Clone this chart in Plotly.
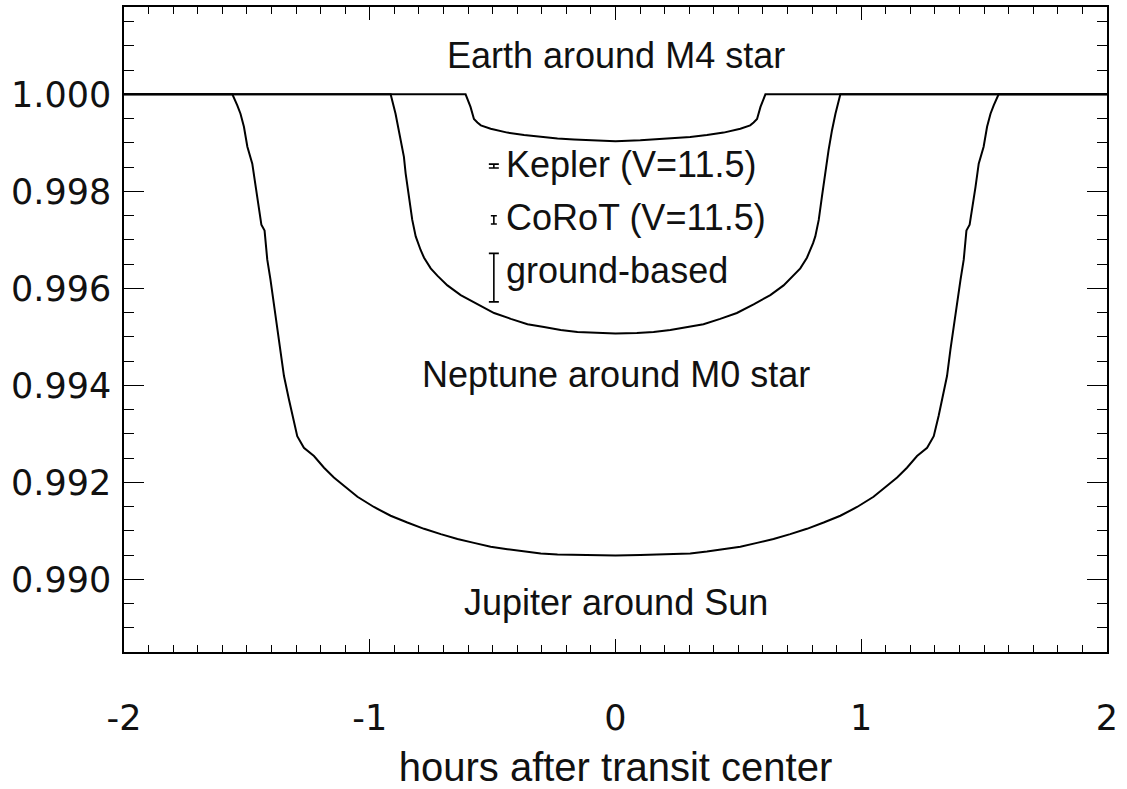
import plotly.graph_objects as go

# ---------------- data ----------------
jupiter_x = [-2.0, -1.559, -1.539, -1.526, -1.512, -1.498, -1.478, -1.465, -1.451, -1.441, -1.428,
             -1.417, -1.404, -1.390, -1.376, -1.363, -1.349, -1.329, -1.315, -1.295, -1.268, -1.227,
             -1.186, -1.146, -1.105, -1.050, -0.983, -0.915, -0.847, -0.779, -0.711, -0.643, -0.576,
             -0.508, -0.440, -0.372, -0.304, -0.236, -0.101, 0.0,
             0.101, 0.236, 0.304, 0.372, 0.440, 0.508, 0.576, 0.643, 0.711, 0.779, 0.847, 0.915,
             0.983, 1.050, 1.105, 1.146, 1.186, 1.227, 1.268, 1.295, 1.315, 1.329, 1.349, 1.363,
             1.376, 1.390, 1.404, 1.417, 1.428, 1.441, 1.451, 1.465, 1.478, 1.498, 1.512, 1.526,
             1.539, 1.559, 2.0]
jupiter_y = [1.0, 1.0, 0.99977, 0.99960, 0.99933, 0.99892, 0.99857, 0.99809, 0.99762, 0.99731, 0.99719,
             0.99659, 0.99618, 0.99569, 0.99522, 0.99474, 0.99419, 0.99371, 0.99337, 0.99295, 0.99271, 0.99254,
             0.99230, 0.99210, 0.99193, 0.99170, 0.99149, 0.99131, 0.99117, 0.99104, 0.99093, 0.99083, 0.99075,
             0.99067, 0.99062, 0.99057, 0.99053, 0.99051, 0.99050, 0.99049,
             0.99050, 0.99051, 0.99053, 0.99057, 0.99062, 0.99067, 0.99075, 0.99083, 0.99093, 0.99104, 0.99117, 0.99131,
             0.99149, 0.99170, 0.99193, 0.99210, 0.99230, 0.99254, 0.99271, 0.99295, 0.99337, 0.99371, 0.99419, 0.99474,
             0.99522, 0.99569, 0.99618, 0.99659, 0.99719, 0.99731, 0.99762, 0.99809, 0.99857, 0.99892, 0.99933, 0.99960,
             0.99977, 1.0, 1.0]

neptune_x = [-2.0, -0.915, -0.895, -0.881, -0.867, -0.861, -0.854, -0.840, -0.827, -0.813, -0.804, -0.793,
             -0.779, -0.752, -0.725, -0.684, -0.630, -0.562, -0.494, -0.426, -0.358, -0.291, -0.223,
             -0.155, -0.087, 0.0,
             0.087, 0.155, 0.223, 0.291, 0.358, 0.426, 0.494, 0.562, 0.630, 0.684, 0.725, 0.752, 0.779,
             0.793, 0.804, 0.813, 0.827, 0.840, 0.854, 0.861, 0.867, 0.881, 0.895, 0.915, 2.0]
neptune_y = [1.0, 1.0, 0.99960, 0.99926, 0.99885, 0.99871, 0.99837, 0.99789, 0.99741, 0.99707, 0.99693, 0.99679,
             0.99663, 0.99641, 0.99626, 0.99606, 0.99586, 0.99567, 0.99549, 0.99537, 0.99526, 0.99520, 0.99514,
             0.99510, 0.99508, 0.99507,
             0.99508, 0.99510, 0.99514, 0.99520, 0.99526, 0.99537, 0.99549, 0.99567, 0.99586, 0.99606, 0.99626, 0.99641, 0.99663,
             0.99679, 0.99693, 0.99707, 0.99741, 0.99789, 0.99837, 0.99871, 0.99885, 0.99926, 0.99960, 1.0, 1.0]

earth_x = [-2.0, -0.610, -0.590, -0.576, -0.562, -0.548, -0.508, -0.440, -0.372, -0.304, -0.236,
           -0.169, -0.101, 0.0, 0.101, 0.169, 0.236, 0.304, 0.372, 0.440, 0.508, 0.548, 0.562,
           0.576, 0.590, 0.610, 2.0]
earth_y = [1.0, 1.0, 0.99974, 0.99949, 0.99942, 0.99936, 0.99929, 0.99921, 0.99916, 0.99912, 0.99909,
           0.99907, 0.99905, 0.99903, 0.99905, 0.99907, 0.99909, 0.99912, 0.99916, 0.99921, 0.99929, 0.99936, 0.99942,
           0.99949, 0.99974, 1.0, 1.0]

precision_labels = ["Kepler (V=11.5)", "CoRoT (V=11.5)", "ground-based"]
precision_x = [-0.495, -0.495, -0.495]
precision_y = [0.99852, 0.99741, 0.99622]
precision_err = [0.00004, 0.000086, 0.0005]
precision_capw = [5, 3, 5]
precision_label_y = [0.99855, 0.99745, 0.99636]

curve_labels = ["Earth around M4 star", "Neptune around M0 star", "Jupiter around Sun"]
curve_label_y = [1.00081, 0.99423, 0.98952]

x_tick_vals = [-2, -1, 0, 1, 2]
x_tick_text = ["-2", "-1", "0", "1", "2"]
y_tick_vals = [0.990, 0.992, 0.994, 0.996, 0.998, 1.000]
y_tick_text = ["0.990", "0.992", "0.994", "0.996", "0.998", "1.000"]

# ---------------- figure ----------------
FONT = "Helvetica, 'Liberation Sans', Arial, sans-serif"
TICKFONT = "'DejaVu Sans', sans-serif"
fig = go.Figure()

for xs, ys in [(jupiter_x, jupiter_y), (neptune_x, neptune_y), (earth_x, earth_y)]:
    fig.add_trace(go.Scatter(x=xs, y=ys, mode="lines",
                             line=dict(color="black", width=2), hoverinfo="skip",
                             showlegend=False))

for px, py, pe, cw in zip(precision_x, precision_y, precision_err, precision_capw):
    fig.add_trace(go.Scatter(x=[px], y=[py], mode="markers",
                             marker=dict(size=1, color="rgba(0,0,0,0)"),
                             error_y=dict(type="data", array=[pe], color="black",
                                          thickness=1.6, width=cw),
                             showlegend=False, hoverinfo="skip"))

for lab, py in zip(precision_labels, precision_label_y):
    fig.add_annotation(x=-0.452, y=py, text=lab, showarrow=False, xanchor="left",
                       yanchor="middle", font=dict(family=FONT, size=36, color="#111"))

for lab, py in zip(curve_labels, curve_label_y):
    fig.add_annotation(x=0.0, y=py, text=lab, showarrow=False, xanchor="center",
                       yanchor="middle", font=dict(family=FONT, size=36, color="#111"))

fig.update_layout(
    width=1127, height=789,
    margin=dict(l=124, r=20, t=5, b=137),
    plot_bgcolor="white", paper_bgcolor="white",
    font=dict(family=FONT, size=36, color="#111"),
)
fig.update_xaxes(
    range=[-2, 2], tickmode="array", tickvals=x_tick_vals, ticktext=x_tick_text,
    showgrid=False, zeroline=False, showline=True, linecolor="black", linewidth=1.5,
    mirror="ticks", ticks="inside", ticklen=13, tickwidth=1.2, tickcolor="black",
    minor=dict(dtick=0.1, tick0=-2, ticks="inside", ticklen=7, tickwidth=1.2, tickcolor="black"),
    tickfont=dict(family=TICKFONT, size=35, color="#111"), ticklabelstandoff=34,
    title=dict(text="hours after transit center", font=dict(family=FONT, size=40, color="#111"), standoff=18),
)
fig.update_yaxes(
    range=[0.9885, 1.0018], tickmode="array", tickvals=y_tick_vals, ticktext=y_tick_text,
    showgrid=False, zeroline=False, showline=True, linecolor="black", linewidth=1.5,
    mirror="ticks", ticks="inside", ticklen=20, tickwidth=1.2, tickcolor="black",
    minor=dict(dtick=0.0005, tick0=0.99, ticks="inside", ticklen=10, tickwidth=1.2, tickcolor="black"),
    tickfont=dict(family=TICKFONT, size=35, color="#111"), ticklabelstandoff=4,
)

fig.write_html("out.html", config={"displayModeBar": False},
               post_script="document.body.style.margin='0px';")
